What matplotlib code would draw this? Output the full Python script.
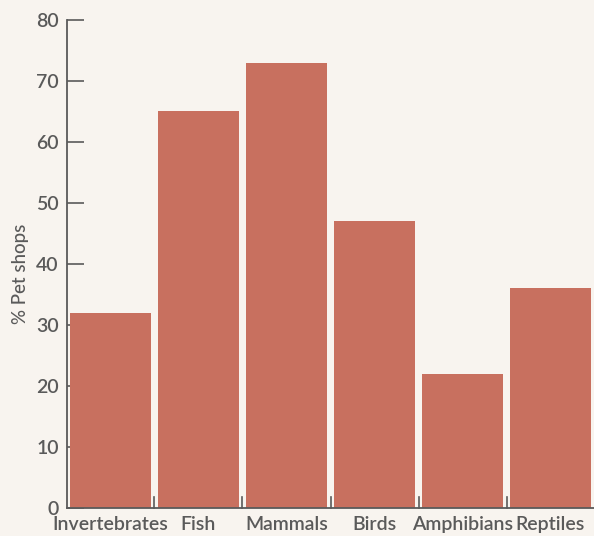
import matplotlib
matplotlib.use('Agg')
import matplotlib.pyplot as plt
import numpy as np

# values
categories = ['Invertebrates', 'Fish', 'Mammals', 'Birds', 'Amphibians', 'Reptiles']
percent_shops = [32, 65, 73, 47, 22, 36]
y_ticks = [0, 10, 20, 30, 40, 50, 60, 70, 80]

bg = '#f8f4ef'
bar_color = '#c8705f'
ink = '#5a5a5a'

plt.rcParams['font.family'] = ['Lato', 'DejaVu Sans']

fig = plt.figure(figsize=(5.94, 5.36), dpi=100, facecolor=bg)
ax = fig.add_axes([67/594, 28/536, 527/594, 488/536])
ax.set_facecolor(bg)

x = np.arange(len(categories))
ax.bar(x, percent_shops, width=0.92, color=bar_color, zorder=2)

ax.set_xlim(-0.494, 5.494)
ax.set_ylim(0, 80)
ax.set_yticks(y_ticks)
ax.set_yticklabels([str(t) for t in y_ticks], fontsize=14, color=ink,
                   fontweight='semibold')

# category labels under bars, ticks between bars
ax.set_xticks(x)
ax.set_xticklabels(categories, fontsize=14, color=ink, fontweight='semibold')
ax.tick_params(axis='x', length=0, pad=6)
for b in x[:-1] + 0.5:
    ax.plot([b, b], [0, 1.8], color=ink, lw=1.2, zorder=3, clip_on=False)

ax.tick_params(axis='y', direction='in', length=12, width=1.2, color=ink, pad=6)

for s in ['top', 'right']:
    ax.spines[s].set_visible(False)
for s in ['left', 'bottom']:
    ax.spines[s].set_color(ink)
    ax.spines[s].set_linewidth(1.3)
    ax.spines[s].set_zorder(4)

ax.set_ylabel('% Pet shops', fontsize=13.5, color=ink, fontweight='medium')
ax.yaxis.set_label_coords(-0.072, 0.48)

fig.savefig('out.png', dpi=100, facecolor=bg)
